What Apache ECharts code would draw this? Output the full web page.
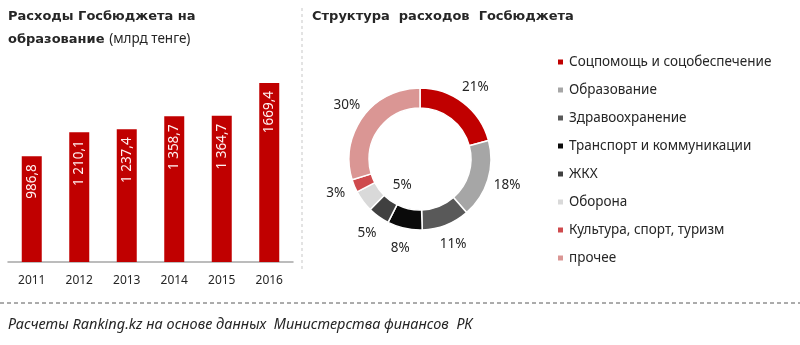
<!DOCTYPE html>
<html><head><meta charset="utf-8">
<script src="https://cdn.jsdelivr.net/npm/echarts@6/dist/echarts.min.js"></script>
<style>html,body{margin:0;padding:0;background:#fff}#c{width:800px;height:345px}</style>
</head><body><div id="c"></div>
<script>
const years = ['2011','2012','2013','2014','2015','2016'];
const spending = [986.8, 1210.1, 1237.4, 1358.7, 1364.7, 1669.4];
const spendingLabels = ['986,8','1 210,1','1 237,4','1 358,7','1 364,7','1669,4'];
const categories = ['Соцпомощь и соцобеспечение','Образование','Здравоохранение','Транспорт и коммуникации','ЖКХ','Оборона','Культура, спорт, туризм','прочее'];
const shares = [21, 18, 11, 8, 5, 5, 3, 30];
const shareColors = ['#C00000','#A6A6A6','#595959','#0A0A0A','#404040','#D9D9D9','#CF4A4D','#DA9694'];

const FONT = '"Noto Sans", sans-serif';
const TFONT = '"DejaVu Sans", sans-serif';
const PIE_C = [420,159];
const total = shares.reduce((a,b)=>a+b,0);
const midAngles = shares.map((v,i)=>{const before = shares.slice(0,i).reduce((a,b)=>a+b,0); return (before + v/2)/total*2*Math.PI;});

const chart = echarts.init(document.getElementById('c'), null, {renderer:'canvas'});
chart.setOption({
  animation:false,
  textStyle:{fontFamily:FONT},
  title:[
    {left:8, top:5, padding:0, text:'{b|Расходы Госбюджета на}\n{b|образование} {n|(млрд тенге)}',
     textStyle:{rich:{b:{fontFamily:TFONT,fontWeight:'bold',fontSize:13,color:'#262626',lineHeight:23},
                      n:{fontFamily:FONT,fontWeight:'normal',fontSize:13.5,color:'#262626',lineHeight:23}}}},
    {left:312, top:5, padding:0, text:'Структура  расходов  Госбюджета',
     textStyle:{fontFamily:TFONT,fontWeight:'bold',fontSize:13,color:'#262626',lineHeight:23}},
    {left:8, top:317, padding:0, text:'Расчеты Ranking.kz на основе данных  Министерства финансов  РК',
     textStyle:{fontFamily:FONT,fontStyle:'italic',fontWeight:'normal',fontSize:14.5,color:'#262626'}}
  ],
  graphic:[
    {type:'line', shape:{x1:302,y1:8,x2:302,y2:272}, style:{stroke:'#C8C8C8',lineWidth:1,lineDash:[3,3]}},
    {type:'line', shape:{x1:0,y1:303,x2:800,y2:303}, style:{stroke:'#595959',lineWidth:1,lineDash:[4,3]}}
  ],
  grid:{left:8, width:285, top:69, bottom:83},
  xAxis:{type:'category', data:years,
    axisLine:{lineStyle:{color:'#A6A6A6',width:1.5}}, axisTick:{show:false},
    axisLabel:{color:'#262626',fontSize:12,margin:13,fontFamily:FONT}},
  yAxis:{type:'value', min:0, max:1800, show:false, splitLine:{show:false}},
  legend:{orient:'vertical', left:551, top:49, itemWidth:7, itemHeight:7, itemGap:12,
    icon:'rect', data:categories,
    textStyle:{fontFamily:FONT,fontSize:13.5,color:'#262626',lineHeight:16}},
  series:[
    {type:'bar', data:spending, barWidth:20, itemStyle:{color:'#C00000'},
     label:{show:true, position:'insideTop', rotate:90, align:'right', verticalAlign:'middle', distance:8,
       color:'#FFF2F2', fontSize:13.5, fontFamily:FONT,
       formatter:p=>spendingLabels[p.dataIndex]}},
    {type:'pie', center:PIE_C, radius:[51,71], startAngle:90, clockwise:true,
     data:categories.map((n,i)=>({name:n,value:shares[i],itemStyle:{color:shareColors[i]}})),
     itemStyle:{borderColor:'#fff',borderWidth:1.5},
     label:{show:true, position:'outside', formatter:'{c}%', fontSize:13.5, color:'#262626', fontFamily:FONT},
     labelLine:{show:false, length:8, length2:4},
     labelLayout:function(p){
       const i = p.dataIndex, a = midAngles[i];
       const R = (i===5) ? 32 : 91;
       let x = PIE_C[0] + R*Math.sin(a), y = PIE_C[1] - R*Math.cos(a);
       if(i===5){ x += 8; y += 7; }
       return {x:x, y:y, align:'center', verticalAlign:'middle'};
     }
    }
  ]
});
</script></body></html>
